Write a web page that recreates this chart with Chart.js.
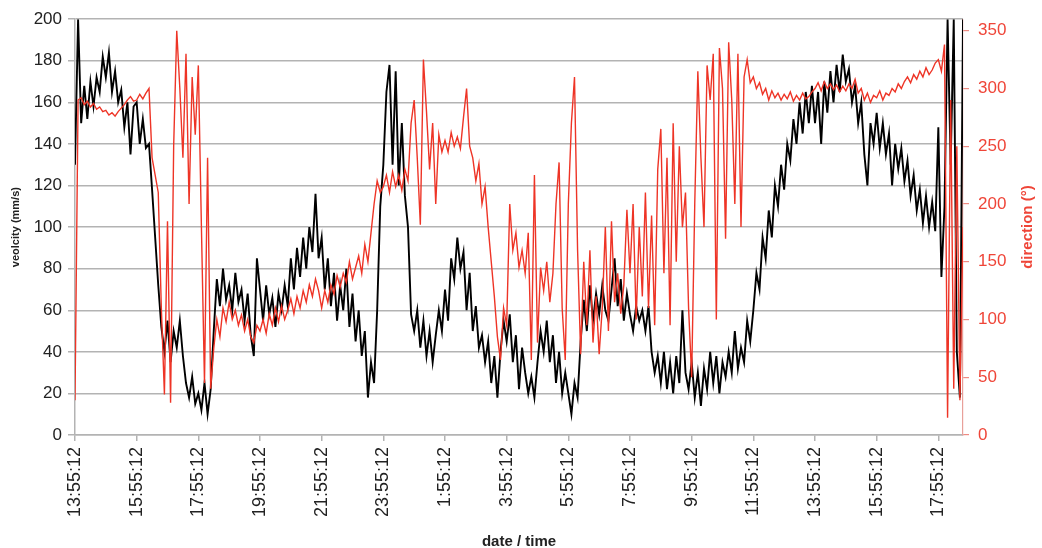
<!DOCTYPE html>
<html>
<head>
<meta charset="utf-8">
<title>velocity / direction</title>
<script src="https://cdn.jsdelivr.net/npm/chart.js@4.4.1/dist/chart.umd.min.js"></script>
<style>
    html, body { margin: 0; padding: 0; background: #fff; }
    #wrap { width: 1042px; height: 548px; position: relative; }
</style>
</head>
<body>
<div id="wrap"><canvas id="chart"></canvas></div>
<script>
// Une mesure toutes les 6 minutes, départ 13:55:12
const sampleMinutes = 6;
const tickStepMinutes = 120;
const timeMax = 1728;

const tickLabels = [
    '13:55:12', '15:55:12', '17:55:12', '19:55:12', '21:55:12', '23:55:12', '1:55:12',
    '3:55:12', '5:55:12', '7:55:12', '9:55:12', '11:55:12', '13:55:12', '15:55:12', '17:55:12'
];
const velocityTicks = [0, 20, 40, 60, 80, 100, 120, 140, 160, 180, 200];
const directionTicks = [0, 50, 100, 150, 200, 250, 300, 350];

// vitesse (mm/s)
const velocity = [
    130, 200, 150, 168, 152, 170, 158, 172, 165, 182, 172, 184, 165, 175, 160, 166, 148, 160, 135, 158,
    160, 140, 152, 138, 140, 118, 95, 72, 52, 40, 55, 35, 50, 42, 55, 38, 25, 18, 28, 15,
    20, 12, 25, 10, 22, 50, 75, 62, 80, 65, 72, 60, 78, 64, 70, 55, 68, 48, 38, 85,
    70, 55, 72, 58, 66, 52, 68, 60, 72, 62, 85, 70, 90, 76, 95, 80, 100, 88, 116, 85,
    95, 70, 85, 62, 78, 55, 72, 60, 80, 52, 68, 45, 60, 38, 50, 18, 35, 25, 60, 110,
    130, 165, 178, 130, 175, 120, 150, 115, 100, 58, 50, 60, 42, 55, 38, 50, 35, 48, 60, 50,
    70, 55, 85, 75, 95, 80, 88, 60, 78, 50, 62, 42, 48, 35, 45, 25, 38, 18, 40, 55,
    45, 58, 35, 48, 22, 42, 30, 20, 28, 18, 35, 50, 40, 55, 35, 48, 25, 40, 20, 30,
    20, 10, 25, 18, 45, 65, 50, 72, 55, 68, 58, 72, 60, 55, 70, 85, 62, 75, 55, 68,
    58, 50, 62, 55, 60, 50, 62, 40, 30, 38, 25, 40, 22, 35, 20, 38, 25, 60, 30, 22,
    35, 18, 30, 14, 32, 22, 40, 25, 38, 20, 35, 28, 40, 30, 50, 32, 42, 35, 55, 45,
    60, 78, 70, 95, 85, 108, 95, 120, 110, 130, 118, 140, 132, 152, 140, 160, 145, 165, 150, 168,
    150, 165, 140, 170, 155, 175, 160, 178, 165, 183, 170, 176, 160, 168, 150, 160, 135, 120, 150, 140,
    155, 138, 150, 135, 145, 120, 140, 128, 138, 122, 132, 115, 125, 108, 118, 102, 115, 100, 112, 98,
    148, 76, 110, 200, 130, 200, 40, 18, 200
];

// direction (°)
const direction = [
    30, 290, 292, 286, 289, 284, 287, 282, 284, 280, 281, 277, 279, 276, 280, 283, 286, 290, 293, 289,
    290, 295, 291, 296, 300, 240, 225, 210, 110, 35, 185, 28, 250, 350, 300, 240, 330, 200, 310, 260,
    320, 180, 45, 240, 40, 75, 100, 85, 110, 98, 115, 100, 108, 95, 104, 90, 100, 85, 80, 95,
    90, 100, 88, 105, 95, 110, 98, 112, 100, 108, 118, 105, 120, 110, 125, 115, 130, 120, 135, 125,
    110, 125, 115, 130, 122, 138, 128, 140, 132, 150, 135, 145, 155, 140, 165, 150, 175, 200, 220, 210,
    215, 225, 210, 228, 215, 225, 212, 230, 220, 270, 290, 240, 182, 325, 280, 230, 270, 200, 260, 245,
    255, 245, 262, 250, 258, 248, 275, 300, 250, 240, 220, 235, 200, 215, 180, 150, 120, 85, 65, 110,
    95, 200, 160, 175, 145, 160, 140, 175, 65, 225, 80, 145, 125, 150, 115, 140, 200, 236, 110, 65,
    200, 270, 310, 160, 70, 150, 95, 160, 80, 120, 70, 110, 180, 90, 185, 115, 140, 105, 130, 195,
    140, 200, 100, 180, 120, 210, 110, 190, 95, 230, 265, 140, 240, 95, 270, 150, 250, 180, 210, 110,
    50, 200, 315, 240, 180, 320, 290, 330, 100, 335, 300, 170, 340, 290, 200, 330, 180, 310, 325, 305,
    310, 300, 305, 295, 300, 290, 298, 292, 296, 290, 295, 291, 297, 289, 294, 290, 296, 291, 293, 297,
    300, 305, 298, 306, 300, 304, 299, 303, 297, 302, 298, 304, 300, 308, 296, 300, 290, 296, 288, 294,
    292, 298, 290, 296, 294, 300, 297, 304, 300, 306, 310, 305, 312, 308, 315, 310, 318, 312, 316, 322,
    325, 315, 338, 15, 290, 40, 250, 30, 180
];

const velocityTitle = 'veolcity (mm/s)';
const directionTitle = 'direction (°)';
const timeTitle = 'date / time';

const fontFamily = "'Liberation Sans', Arial, Helvetica, sans-serif";
const gridColor = '#b3b3b3';
const redLine = '#ee3426';
const redText = '#ef4538';

function toPoints(values) {
    return values.map((v, i) => ({ x: i * sampleMinutes, y: v }));
}

// titre de l'axe droit, lu de bas en haut comme dans l'original
const rightTitlePlugin = {
    id: 'rightTitle',
    afterDraw(chart) {
        const s = chart.scales.yDir;
        const ctx = chart.ctx;
        ctx.save();
        ctx.translate(s.right - 14.5, (s.top + s.bottom) / 2);
        ctx.rotate(-Math.PI / 2);
        ctx.font = 'bold 15px ' + fontFamily;
        ctx.fillStyle = redText;
        ctx.textAlign = 'center';
        ctx.textBaseline = 'middle';
        ctx.fillText(directionTitle, 0, 0);
        ctx.restore();
    }
};

document.addEventListener('DOMContentLoaded', () => {
    const ctx = document.getElementById('chart');

    new Chart(ctx, {
        type: 'line',
        data: {
            datasets: [
                {
                    label: 'direction',
                    data: toPoints(direction),
                    yAxisID: 'yDir',
                    borderColor: redLine,
                    borderWidth: 1.4,
                    pointRadius: 0,
                    tension: 0,
                    order: 0
                },
                {
                    label: 'velocity',
                    data: toPoints(velocity),
                    yAxisID: 'yVel',
                    borderColor: '#000000',
                    borderWidth: 1.9,
                    pointRadius: 0,
                    tension: 0,
                    order: 1
                }
            ]
        },
        options: {
            responsive: true,
            maintainAspectRatio: false,
            animation: false,
            layout: { padding: { top: 15, left: 0, right: 0, bottom: 0 } },
            plugins: {
                legend: { display: false },
                tooltip: { enabled: false }
            },
            scales: {
                x: {
                    type: 'linear',
                    min: 0,
                    max: timeMax,
                    afterBuildTicks: axis => {
                        axis.ticks = tickLabels.map((_, i) => ({ value: i * tickStepMinutes }));
                    },
                    afterFit: axis => { axis.height = 113; },
                    grid: {
                        drawOnChartArea: false,
                        drawTicks: true,
                        tickLength: 6,
                        color: gridColor,
                        lineWidth: 1.5
                    },
                    border: { color: gridColor, width: 1.5 },
                    ticks: {
                        autoSkip: false,
                        minRotation: 90,
                        maxRotation: 90,
                        padding: 6,
                        color: '#222',
                        font: { family: fontFamily, size: 18 },
                        callback: (value, index) => tickLabels[index]
                    },
                    title: {
                        display: true,
                        text: timeTitle,
                        color: '#222',
                        padding: { top: 0, bottom: 0 },
                        font: { family: fontFamily, size: 15, weight: 'bold', lineHeight: 0.85 }
                    }
                },
                yVel: {
                    type: 'linear',
                    position: 'left',
                    min: 0,
                    max: 200,
                    afterBuildTicks: axis => {
                        axis.ticks = velocityTicks.map(v => ({ value: v }));
                    },
                    afterFit: axis => { axis.width = 75; },
                    grid: {
                        color: gridColor,
                        lineWidth: 1.5,
                        tickLength: 7
                    },
                    border: { color: gridColor, width: 1.5 },
                    ticks: {
                        padding: 6,
                        color: '#222',
                        font: { family: fontFamily, size: 17 }
                    },
                    title: {
                        display: true,
                        text: velocityTitle,
                        color: '#222',
                        padding: { top: 9, bottom: 0 },
                        font: { family: fontFamily, size: 11, weight: 'bold' }
                    }
                },
                yDir: {
                    type: 'linear',
                    position: 'right',
                    min: 0,
                    max: 360,
                    afterBuildTicks: axis => {
                        axis.ticks = directionTicks.map(v => ({ value: v }));
                    },
                    afterFit: axis => { axis.width = 79; },
                    grid: {
                        drawOnChartArea: false,
                        color: '#ef8a82',
                        lineWidth: 1.2,
                        tickLength: 6
                    },
                    border: { color: '#e8a09a', width: 1.2 },
                    ticks: {
                        padding: 9,
                        color: redText,
                        font: { family: fontFamily, size: 17 }
                    },
                    title: { display: false }
                }
            }
        },
        plugins: [rightTitlePlugin]
    });
});
</script>
</body>
</html>
